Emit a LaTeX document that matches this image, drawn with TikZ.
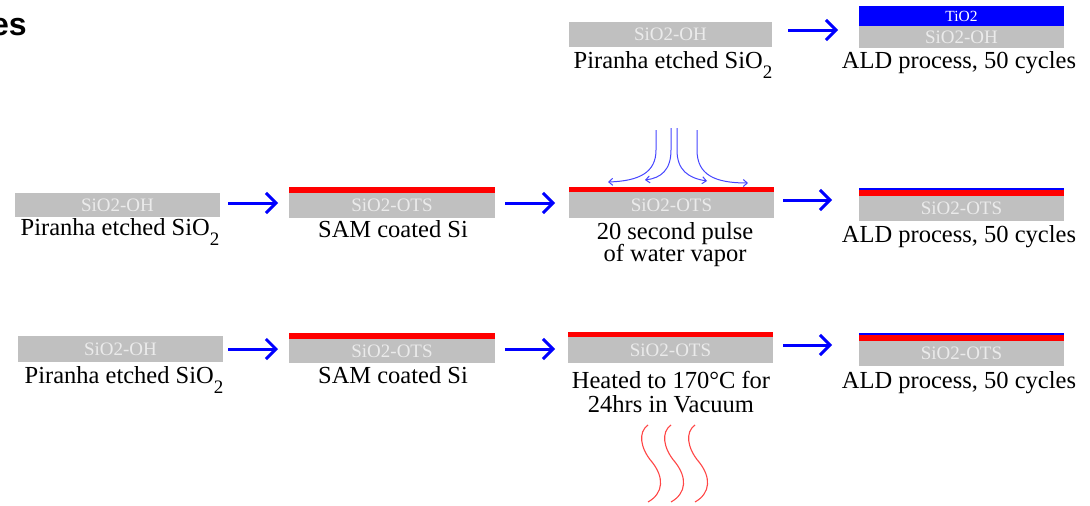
\documentclass[tikz,border=0pt]{standalone}
\usepackage{fontspec}
\setmainfont{Liberation Serif}
\newfontfamily\headfont{Liberation Sans}
\usetikzlibrary{arrows.meta}
\definecolor{sio}{HTML}{C0C0C0}
\definecolor{siotext}{HTML}{EBEBEB}
\definecolor{ots}{HTML}{FF0000}
\definecolor{tio}{HTML}{0000FF}
\definecolor{vapor}{HTML}{4646FF}
\definecolor{heat}{HTML}{FF4646}
\newcommand{\subtwo}{{\fontsize{19}{19}\selectfont\raisebox{-10pt}{2}}}
\begin{document}
\begin{tikzpicture}[x=1pt,y=-1pt,
  layerbox/.style={inner sep=0pt, outer sep=0pt},
  siobox/.style={layerbox, fill=sio, text=siotext, font=\fontsize{19}{19}\selectfont},
  otsbar/.style={layerbox, fill=ots},
  tiobar/.style={layerbox, fill=tio},
  tiobox/.style={layerbox, fill=tio, text=white, font=\fontsize{15.5}{16}\selectfont},
  caption/.style={inner sep=0pt, font=\fontsize{24.5}{24.5}\selectfont, anchor=base},
  caption2/.style={inner sep=0pt, font=\fontsize{24.5}{24.5}\selectfont, align=center, anchor=north},
  proc/.style={draw=tio, line width=3pt, -{Straight Barb[length=10pt,width=20pt]}},
  vaporarrow/.style={draw=vapor, line width=1pt, -{Straight Barb[length=4pt,width=7pt]}},
  heatwave/.style={draw=heat, line width=1.1pt}
]
\useasboundingbox (0,0) rectangle (1090,506);
\fill[white] (0,0) rectangle (1090,506);
\clip (0,0) rectangle (1090,506);

% title fragment
\node[inner sep=0pt, anchor=base east, font=\headfont\bfseries\fontsize{32}{32}\selectfont] (title) at (27,35) {es};

% ---------- Row 1 ----------
\node[siobox, minimum width=203pt, minimum height=25pt] (a1) at (670.5,34.5) {SiO2-OH};
\node[caption] (a1cap) at (673,68) {Piranha etched SiO\subtwo};
\node[siobox, minimum width=205pt, minimum height=22pt] (b1) at (961.5,37) {SiO2-OH};
\node[tiobox, minimum width=205pt, minimum height=20pt, anchor=south] (b1t) at (b1.north) {TiO2};
\node[caption] (b1cap) at (959,68) {ALD process, 50 cycles};
\draw[proc, shorten <=16pt, shorten >=21pt] ([yshift=4.5pt]a1.east) -- ([yshift=4.5pt]a1.east -| b1.west);

% ---------- Row 2 ----------
\node[siobox, minimum width=205pt, minimum height=24pt] (a2) at (117.5,205) {SiO2-OH};
\node[caption] (a2cap) at (120,235) {Piranha etched SiO\subtwo};

\node[siobox, minimum width=206pt, minimum height=25pt] (b2) at (392,205.5) {SiO2-OTS};
\node[otsbar, minimum width=206pt, minimum height=6pt, anchor=south] (b2r) at (b2.north) {};
\node[caption] (b2cap) at (393,237) {SAM coated Si};

\node[siobox, minimum width=205pt, minimum height=26pt] (c2) at (671.5,205) {SiO2-OTS};
\node[otsbar, minimum width=205pt, minimum height=5pt, anchor=south] (c2r) at (c2.north) {};
\node[caption2] (c2cap) at (675,222) {20 second pulse\\[-2pt]of water vapor};

\node[siobox, minimum width=205pt, minimum height=25pt] (d2) at (961.5,208.5) {SiO2-OTS};
\node[otsbar, minimum width=205pt, minimum height=6pt, anchor=south] (d2r) at (d2.north) {};
\node[tiobar, minimum width=205pt, minimum height=2.5pt, anchor=south] (d2b) at (d2r.north) {};
\node[caption] (d2cap) at (959,242) {ALD process, 50 cycles};

\draw[proc, shorten <=8pt, shorten >=11pt] ([yshift=2pt]a2.east) -- ([yshift=2pt]a2.east -| b2.west);
\draw[proc, shorten <=10pt, shorten >=14pt] ([yshift=2.5pt]b2.east) -- ([yshift=2.5pt]b2.east -| c2.west);
\draw[proc, shorten <=9pt, shorten >=27pt] ([yshift=5pt]c2.east) -- ([yshift=5pt]c2.east -| d2.west);

% water vapour pulse
\draw[vaporarrow] (656,130) -- (656,150) .. controls (656,172) and (640,181) .. (608,182);
\draw[vaporarrow] (671,128) -- (671,150) .. controls (671,170) and (661,178) .. (645,180);
\draw[vaporarrow] (677,128) -- (677,150) .. controls (677,170) and (688,178) .. (707,181);
\draw[vaporarrow] (697,130) -- (697,150) .. controls (697,175) and (715,183) .. (748,183);

% ---------- Row 3 ----------
\node[siobox, minimum width=205pt, minimum height=26pt] (a3) at (120.5,349) {SiO2-OH};
\node[caption] (a3cap) at (124,383) {Piranha etched SiO\subtwo};

\node[siobox, minimum width=206pt, minimum height=24pt] (b3) at (392,351) {SiO2-OTS};
\node[otsbar, minimum width=206pt, minimum height=6pt, anchor=south] (b3r) at (b3.north) {};
\node[caption] (b3cap) at (393,383) {SAM coated Si};

\node[siobox, minimum width=205pt, minimum height=26pt] (c3) at (670.5,350) {SiO2-OTS};
\node[otsbar, minimum width=205pt, minimum height=5pt, anchor=south] (c3r) at (c3.north) {};
\node[caption2] (c3cap) at (671,371) {Heated to 170°C for\\[0pt]24hrs in Vacuum};

\node[siobox, minimum width=205pt, minimum height=25pt] (d3) at (961.5,353.5) {SiO2-OTS};
\node[otsbar, minimum width=205pt, minimum height=6pt, anchor=south] (d3r) at (d3.north) {};
\node[tiobar, minimum width=205pt, minimum height=2.5pt, anchor=south] (d3b) at (d3r.north) {};
\node[caption] (d3cap) at (959,388) {ALD process, 50 cycles};

\draw[proc, shorten <=5pt, shorten >=11pt] (a3.east) -- (a3.east -| b3.west);
\draw[proc, shorten <=10pt, shorten >=13pt] ([yshift=2pt]b3.east) -- ([yshift=2pt]b3.east -| c3.west);
\draw[proc, shorten <=10pt, shorten >=27pt] ([yshift=5pt]c3.east) -- ([yshift=5pt]c3.east -| d3.west);

% heat waves
\foreach \dx in {0,23,47}{
  \draw[heatwave, xshift=\dx pt] (648,425) .. controls (638,432) and (640,448) .. (652,462)
    .. controls (664,477) and (664,493) .. (648,502);
}
\end{tikzpicture}
\end{document}
